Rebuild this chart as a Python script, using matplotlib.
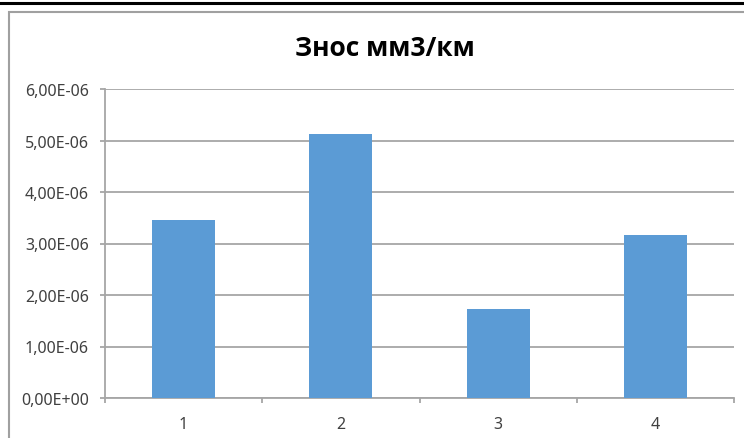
import matplotlib

matplotlib.use("Agg")
import matplotlib.pyplot as plt
from matplotlib.lines import Line2D
from matplotlib.patches import Rectangle
from matplotlib.ticker import FixedLocator, FuncFormatter

W, H = 744, 439

categories = ["1", "2", "3", "4"]
wear = [3.46e-6, 5.12e-6, 1.72e-6, 3.17e-6]
y_ticks = [0, 1e-6, 2e-6, 3e-6, 4e-6, 5e-6, 6e-6]
title = "Знос мм3/км"

BAR = "#5B9BD5"
GRID = "#A6A6A6"
TEXT = "#404040"

plt.rcParams["font.family"] = ["Noto Sans", "DejaVu Sans"]


def sci_comma(v, _pos):
    s = f"{v:.2E}"
    return s.replace(".", ",")


fig = plt.figure(figsize=(W / 100, H / 100), dpi=100)

# outer frame line and chart-area border
fig.add_artist(Line2D([0, 1], [1 - 4 / H, 1 - 4 / H], color="black", lw=2.2,
                      transform=fig.transFigure))
fig.add_artist(Rectangle((9 / W, -0.05), 1.1, 1 - 13 / H + 0.05, transform=fig.transFigure,
                         fill=False, edgecolor="#A0A0A0", lw=1.5))

ax = fig.add_axes([105 / W, (H - 399) / H, (734 - 105) / W, (399 - 90) / H])
x = list(range(1, len(categories) + 1))
ax.bar(x, wear, width=0.4, color=BAR, zorder=3)

ax.set_xlim(0.5, len(categories) + 0.5)
ax.set_ylim(0, 6e-6)
ax.set_yticks(y_ticks)
ax.yaxis.set_major_formatter(FuncFormatter(sci_comma))
ax.set_xticks(x)
ax.set_xticklabels(categories)
ax.xaxis.set_minor_locator(FixedLocator([i + 0.5 for i in range(len(categories) + 1)]))

ax.grid(axis="y", color=GRID, lw=1.3, zorder=0)
for side in ("top", "right"):
    ax.spines[side].set_visible(False)
for side in ("left", "bottom"):
    ax.spines[side].set_color(GRID)
    ax.spines[side].set_linewidth(1.3)

ax.tick_params(axis="y", length=3.6, width=1.3, color=GRID, pad=8, labelsize=11.5, labelcolor=TEXT)
ax.tick_params(axis="x", which="major", length=0, pad=13, labelsize=11.5, labelcolor=TEXT)
ax.tick_params(axis="x", which="minor", length=3.6, width=1.3, color=GRID)

fig.text(385 / W, 1 - 48 / H, title, ha="center", va="center", fontsize=19,
         fontweight="bold", color="black", family=["Open Sans", "DejaVu Sans"])

fig.savefig("out.png", dpi=100)
